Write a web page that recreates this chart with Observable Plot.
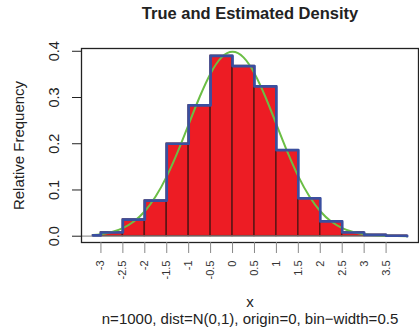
<!DOCTYPE html>
<html>
<head>
<meta charset="utf-8">
<script src="https://cdn.jsdelivr.net/npm/d3@7"></script>
<script src="https://cdn.jsdelivr.net/npm/@observablehq/plot@0.6"></script>
<style>
  html, body { margin: 0; padding: 0; background: #fff; }
  #chart svg { display: block; font-family: "Liberation Sans", Arial, Helvetica, sans-serif; }
</style>
</head>
<body>
<div id="chart"></div>
<script>
// Histogram bins (edges) and relative-frequency densities
const binEdges = [-3.18, -3, -2.5, -2, -1.5, -1, -0.5, 0, 0.5, 1, 1.5, 2, 2.5, 3, 3.5, 3.98];
const binHeights = [0.002, 0.008, 0.036, 0.077, 0.2, 0.283, 0.39, 0.368, 0.324, 0.186, 0.082, 0.032, 0.008, 0.003, 0.001];

// True density curve
const curveX = [-3.18, -3, -2.75, -2.5, -2.25, -2, -1.75, -1.5, -1.25, -1, -0.75, -0.5, -0.25, 0, 0.25, 0.5, 0.75, 1, 1.25, 1.5, 1.75, 2, 2.25, 2.5, 2.75, 3, 3.25, 3.5, 3.75, 3.98];
const curveY = [0.0025, 0.0044, 0.0091, 0.0175, 0.0317, 0.054, 0.0863, 0.1295, 0.1826, 0.242, 0.3011, 0.3521, 0.3867, 0.3989, 0.3867, 0.3521, 0.3011, 0.242, 0.1826, 0.1295, 0.0863, 0.054, 0.0317, 0.0175, 0.0091, 0.0044, 0.002, 0.0009, 0.0004, 0.0001];

// Tick values and labels
const xTicks = [-3, -2.5, -2, -1.5, -1, -0.5, 0, 0.5, 1, 1.5, 2, 2.5, 3, 3.5];
const xTickLabels = ["-3", "-2.5", "-2", "-1.5", "-1", "-0.5", "0", "0.5", "1", "1.5", "2", "2.5", "3", "3.5"];
const yTicks = [0, 0.1, 0.2, 0.3, 0.4];
const yTickLabels = ["0.0", "0.1", "0.2", "0.3", "0.4"];

const titleText = "True and Estimated Density";
const xLabel = "x";
const yLabel = "Relative Frequency";
const captionText = "n=1000, dist=N(0,1), origin=0, bin\u2212width=0.5";

const bins = binHeights.map((h, i) => ({x1: binEdges[i], x2: binEdges[i + 1], h}));
const stepPts = binHeights.map((h, i) => ({x: binEdges[i], h}));
stepPts.push({x: binEdges[binEdges.length - 1], h: binHeights[binHeights.length - 1]});
stepPts.push({x: binEdges[binEdges.length - 1], h: 0});
const curve = curveX.map((x, i) => ({x, y: curveY[i]}));
const xTickData = xTicks.map((v, i) => ({v, t: xTickLabels[i]}));
const yTickData = yTicks.map((v, i) => ({v, t: yTickLabels[i]}));

const chart = Plot.plot({
  width: 419,
  height: 335,
  marginLeft: 81,
  marginRight: 1,
  marginTop: 48,
  marginBottom: 93,
  style: {background: "#fff", fontFamily: "'Liberation Sans', Arial, Helvetica, sans-serif", color: "#222"},
  x: {domain: [-3.443, 4.239]},
  y: {domain: [-0.0136, 0.406]},
  marks: [
    Plot.rectY(bins, {x1: "x1", x2: "x2", y1: 0, y2: "h", fill: "#ED1C24", stroke: "#5e1616", strokeWidth: 1.5}),
    Plot.ruleY([0], {x1: -3.443, x2: 3.98, stroke: "#999", strokeWidth: 1.2}),
    Plot.line(curve, {x: "x", y: "y", curve: "natural", stroke: "#6BBE45", strokeWidth: 2}),
    Plot.line(stepPts, {x: "x", y: "h", curve: "step-after", stroke: "#3A4FA0", strokeWidth: 2.7}),
    Plot.frame({stroke: "#222", strokeWidth: 1.3}),
    Plot.axisY({ticks: yTicks, tickSize: 9, tickFormat: () => "", label: null, stroke: "#222"}),
    Plot.axisX({ticks: xTicks, tickSize: 11, tickFormat: () => "", label: null, stroke: "#888"}),
    Plot.text(yTickData, {y: "v", text: "t", frameAnchor: "left", dx: -27, rotate: -90, textAnchor: "middle", lineAnchor: "middle", fontSize: 14.5, fill: "#222"}),
    Plot.text(xTickData, {x: "v", text: "t", frameAnchor: "bottom", dy: 18, rotate: -90, textAnchor: "end", lineAnchor: "middle", fontSize: 11, fill: "#333"}),
    Plot.text([yLabel], {text: d => d, frameAnchor: "left", dx: -62, rotate: -90, textAnchor: "middle", lineAnchor: "middle", fontSize: 15, fill: "#222"}),
    Plot.text([xLabel], {text: d => d, frameAnchor: "bottom", dy: 60, textAnchor: "middle", lineAnchor: "middle", fontSize: 15, fill: "#222"}),
    Plot.text([captionText], {text: d => d, frameAnchor: "bottom", dy: 77, textAnchor: "middle", lineAnchor: "middle", fontSize: 15, fill: "#222"}),
    Plot.text([titleText], {text: d => d, frameAnchor: "top", dy: -35, textAnchor: "middle", lineAnchor: "middle", fontSize: 16.5, fontWeight: "bold", fill: "#222"})
  ]
});
document.getElementById("chart").appendChild(chart);
</script>
</body>
</html>
